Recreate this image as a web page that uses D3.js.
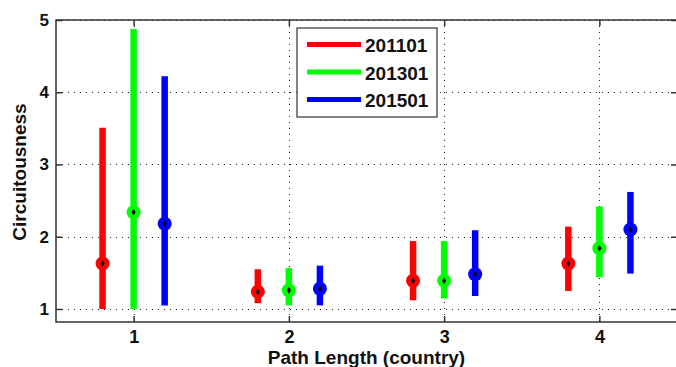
<!DOCTYPE html>
<html>
  <head>
    <script src="https://d3js.org/d3.v7.min.js"></script>
    <style>
      body { margin: 0; background: #fff; }
      text { font-family: "Liberation Sans", Arial, sans-serif; font-weight: bold; fill: #111; }
    </style>
  </head>
  <body>
    <div id="chart"></div>
    <script>
      const categories = [1, 2, 3, 4];
      const seriesNames = ["201101", "201301", "201501"];
      const colors = ["#ff0000", "#00ff00", "#0000ff"];
      const median201101 = [1.63, 1.24, 1.39, 1.63];
      const low201101 = [1.0, 1.08, 1.12, 1.25];
      const high201101 = [3.51, 1.55, 1.94, 2.14];
      const median201301 = [2.34, 1.26, 1.39, 1.84];
      const low201301 = [1.0, 1.05, 1.145, 1.44];
      const high201301 = [4.875, 1.565, 1.94, 2.42];
      const median201501 = [2.18, 1.28, 1.48, 2.1];
      const low201501 = [1.05, 1.05, 1.18, 1.49];
      const high201501 = [4.22, 1.6, 2.09, 2.62];
      const yTicks = [1, 2, 3, 4, 5];

      const series = [
        { name: seriesNames[0], med: median201101, lo: low201101, hi: high201101 },
        { name: seriesNames[1], med: median201301, lo: low201301, hi: high201301 },
        { name: seriesNames[2], med: median201501, lo: low201501, hi: high201501 },
      ];
      const offsets = [-0.2, 0, 0.2];

      const W = 676, H = 367;
      const mLeft = 56, mRight = 677, mTop = 20, mBottom = 322;
      const svg = d3.select("#chart").append("svg").attr("width", W).attr("height", H);

      const x = d3.scaleLinear().domain([0.5, 4.5]).range([mLeft, mRight]);
      const y = d3.scaleLinear().domain([0.82, 5]).range([mBottom, mTop]);

      // grid
      const grid = svg.append("g").attr("stroke", "#222").attr("stroke-width", 1)
        .attr("stroke-dasharray", "1,5");
      grid.selectAll("line.h").data(yTicks).enter().append("line").attr("class", "h")
        .attr("x1", mLeft).attr("x2", mRight)
        .attr("y1", (d) => Math.round(y(d)) + 0.5).attr("y2", (d) => Math.round(y(d)) + 0.5);
      grid.selectAll("line.v").data(categories).enter().append("line").attr("class", "v")
        .attr("y1", mTop).attr("y2", mBottom)
        .attr("x1", (d) => Math.round(x(d)) + 0.5).attr("x2", (d) => Math.round(x(d)) + 0.5);

      // axis box
      svg.append("rect").attr("x", mLeft).attr("y", mTop)
        .attr("width", mRight - mLeft).attr("height", mBottom - mTop)
        .attr("fill", "none").attr("stroke", "#333").attr("stroke-width", 1.5);

      // ticks
      const xAxis = d3.axisBottom(x).tickValues(categories).tickSizeInner(-6).tickSizeOuter(0).tickPadding(8).tickFormat(d3.format("d"));
      const gx = svg.append("g").attr("transform", `translate(0,${mBottom})`).call(xAxis);
      const xTop = d3.axisTop(x).tickValues(categories).tickSizeInner(-6).tickSizeOuter(0).tickFormat("");
      const gxt = svg.append("g").attr("transform", `translate(0,${mTop})`).call(xTop);
      const yAxis = d3.axisLeft(y).tickValues(yTicks).tickSizeInner(-6).tickSizeOuter(0).tickPadding(7).tickFormat(d3.format("d"));
      const gy = svg.append("g").attr("transform", `translate(${mLeft},0)`).call(yAxis);
      const yRight = d3.axisRight(y).tickValues(yTicks).tickSizeInner(-6).tickSizeOuter(0).tickFormat("");
      const gyr = svg.append("g").attr("transform", `translate(${mRight},0)`).call(yRight);
      [gx, gxt, gy, gyr].forEach((g) => {
        g.attr("font-size", null).attr("font-family", null);
        g.select(".domain").remove();
        g.selectAll(".tick line").attr("stroke", "#333").attr("stroke-width", 1.5);
        g.selectAll("text").attr("fill", "#111");
      });
      gx.selectAll("text").attr("font-size", 18).style("font-size", "18px");
      gy.selectAll("text").attr("font-size", 17).style("font-size", "17px");

      // ranges and medians
      series.forEach((s, i) => {
        const g = svg.append("g");
        g.selectAll("line").data(categories).enter().append("line")
          .attr("x1", (d) => x(d + offsets[i])).attr("x2", (d) => x(d + offsets[i]))
          .attr("y1", (d, j) => y(s.lo[j])).attr("y2", (d, j) => y(s.hi[j]))
          .attr("stroke", colors[i]).attr("stroke-width", 6.5);
        g.selectAll("circle").data(categories).enter().append("circle")
          .attr("cx", (d) => x(d + offsets[i])).attr("cy", (d, j) => y(s.med[j]))
          .attr("r", 7).attr("fill", colors[i]);
        g.selectAll("path").data(categories).enter().append("path")
          .attr("d", d3.symbol(d3.symbolDiamond, 14))
          .attr("transform", (d, j) => `translate(${x(d + offsets[i])},${y(s.med[j])})`)
          .attr("fill", "#000");
      });

      // legend
      const lg = svg.append("g").attr("transform", "translate(297,28)");
      lg.append("rect").attr("x", 0).attr("y", 0).attr("width", 140).attr("height", 89)
        .attr("fill", "#fff").attr("stroke", "#333").attr("stroke-width", 1.2);
      seriesNames.forEach((n, i) => {
        const ly = 16.5 + i * 27.5;
        lg.append("line").attr("x1", 10).attr("x2", 64).attr("y1", ly).attr("y2", ly)
          .attr("stroke", colors[i]).attr("stroke-width", 5);
        lg.append("text").attr("x", 68).attr("y", ly + 7.5).style("font-size", "19px").text(n);
      });

      // axis labels
      svg.append("text").attr("x", (mLeft + mRight) / 2).attr("y", 364)
        .attr("text-anchor", "middle").style("font-size", "19px").text("Path Length (country)");
      svg.append("text").attr("transform", "translate(26,172) rotate(-90)")
        .attr("text-anchor", "middle").style("font-size", "19px").text("Circuitousness");
    </script>
  </body>
</html>
